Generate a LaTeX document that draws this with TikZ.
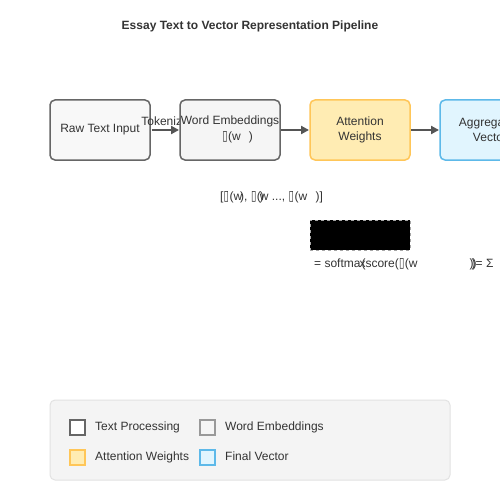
\documentclass[tikz,border=0pt]{standalone}
\usepackage{fontspec}
\setmainfont{Liberation Sans}
\newfontfamily\symfont{DejaVu Sans}
\usetikzlibrary{arrows.meta}
\definecolor{txt}{HTML}{333333}
\definecolor{procdraw}{HTML}{666666}
\definecolor{procfill}{HTML}{F8F8F8}
\definecolor{embdraw}{HTML}{666666}
\definecolor{embfill}{HTML}{F5F5F5}
\definecolor{attdraw}{HTML}{FFC658}
\definecolor{attfill}{HTML}{FFECB3}
\definecolor{vecdraw}{HTML}{5DB9E9}
\definecolor{vecfill}{HTML}{E1F5FE}
\definecolor{arrcol}{HTML}{555555}
\definecolor{legfill}{HTML}{F4F4F4}
\definecolor{legdraw}{HTML}{E2E2E2}
\definecolor{legemb}{HTML}{999999}
\newcommand{\tofu}{{\symfont\fontsize{14}{14}\selectfont\kern0.2pt\scalebox{0.7}[1]{▯}\kern0.4pt}}
\tikzset{
  stagebox/.style={rounded corners=5pt, line width=1.5pt, minimum width=100pt, minimum height=60pt,
    inner sep=0pt, align=center, text=txt, font=\fontsize{12}{15}\selectfont},
  lbl/.style={text=txt, inner sep=0pt, font=\fontsize{12}{15}\selectfont},
  ttl/.style={text=txt, inner sep=0pt, font=\bfseries\fontsize{12}{15}\selectfont},
  arr/.style={draw=arrcol, line width=2pt, -{Triangle[length=8pt,width=8pt]}},
  legsq/.style={line width=1.5pt, minimum width=15pt, minimum height=15pt, inner sep=0pt},
}
\begin{document}
\begin{tikzpicture}[x=1pt,y=-1pt]
\useasboundingbox (0,0) rectangle (500,500);
\clip (0,0) rectangle (500,500);
\fill[white] (0,0) rectangle (500,500);
% title
\node[ttl, anchor=base] (title) at (250,29.5) {Essay Text to Vector Representation Pipeline};
% coordinates for boxes
\coordinate (rawc) at (100,130);
\coordinate (embc) at (230,130);
\coordinate (attc) at (360,130);
\coordinate (vecc) at (490,130);
% first box, then arrows and label, then the other boxes on top
\node[stagebox, draw=procdraw, fill=procfill] (raw) at (rawc) {Raw Text Input};
\node[minimum width=100pt, minimum height=60pt, inner sep=0pt] (emb0) at (embc) {};
\node[minimum width=100pt, minimum height=60pt, inner sep=0pt] (att0) at (attc) {};
\node[minimum width=100pt, minimum height=60pt, inner sep=0pt] (vec0) at (vecc) {};
\draw[arr] ([xshift=0.75pt]raw.east) -- ([xshift=-0.75pt]emb0.west);
\draw[arr] ([xshift=0.75pt]emb0.east) -- ([xshift=-0.75pt]att0.west);
\draw[arr] ([xshift=0.75pt]att0.east) -- ([xshift=-0.75pt]vec0.west);
\node[lbl, anchor=base] (tok) at (165,125) {Tokenize};
\node[stagebox, draw=embdraw, fill=embfill] (emb) at (embc) {};
\node[lbl, anchor=base] (embt) at (230,124.5) {Word Embeddings};
\node[lbl, anchor=base west] (embf) at (222,140) {\tofu(w\hspace{8pt})};
\node[stagebox, draw=attdraw, fill=attfill] (att) at (attc) {Attention\\Weights};
\node[stagebox, draw=vecdraw, fill=vecfill] (vec) at (vecc) {Aggregated\\Vector};
% formulas
\node[lbl, anchor=base west] (seq) at (220,200) {[\tofu(w\kern-2pt), \tofu(\kern-1pt)\kern-4pt w ..., \tofu(w};
\node[lbl, anchor=base west] (seqend) at (315.5,200) {)]};
\node[draw=gray!70, dashed, line width=0.8pt, fill=black, minimum width=100pt, minimum height=30pt, inner sep=0pt] (blk) at (360,235) {};
\node[lbl, anchor=base west] (soft) at (314,267) {= softma\kern-1pt x\kern-4pt(score(\tofu(w};
\node[lbl, anchor=base west] (softend) at (469.5,267) {)\kern-2pt)\kern-3pt)\kern-1pt= Σ};
% legend
\node[draw=legdraw, fill=legfill, line width=1pt, rounded corners=5pt, minimum width=400pt, minimum height=80pt, inner sep=0pt] (legend) at (250,440) {};
\node[legsq, draw=procdraw, fill=white] (lp) at (77.5,427.5) {};
\node[lbl, anchor=base west] (lpt) at (95,430.5) {Text Processing};
\node[legsq, draw=legemb, fill=embfill] (le) at (207.5,427.5) {};
\node[lbl, anchor=base west] (let) at (225,430.5) {Word Embeddings};
\node[legsq, draw=attdraw, fill=attfill] (la) at (77.5,457.5) {};
\node[lbl, anchor=base west] (lat) at (95,460.5) {Attention Weights};
\node[legsq, draw=vecdraw, fill=vecfill] (lv) at (207.5,457.5) {};
\node[lbl, anchor=base west] (lvt) at (225,460.5) {Final Vector};
\end{tikzpicture}
\end{document}
